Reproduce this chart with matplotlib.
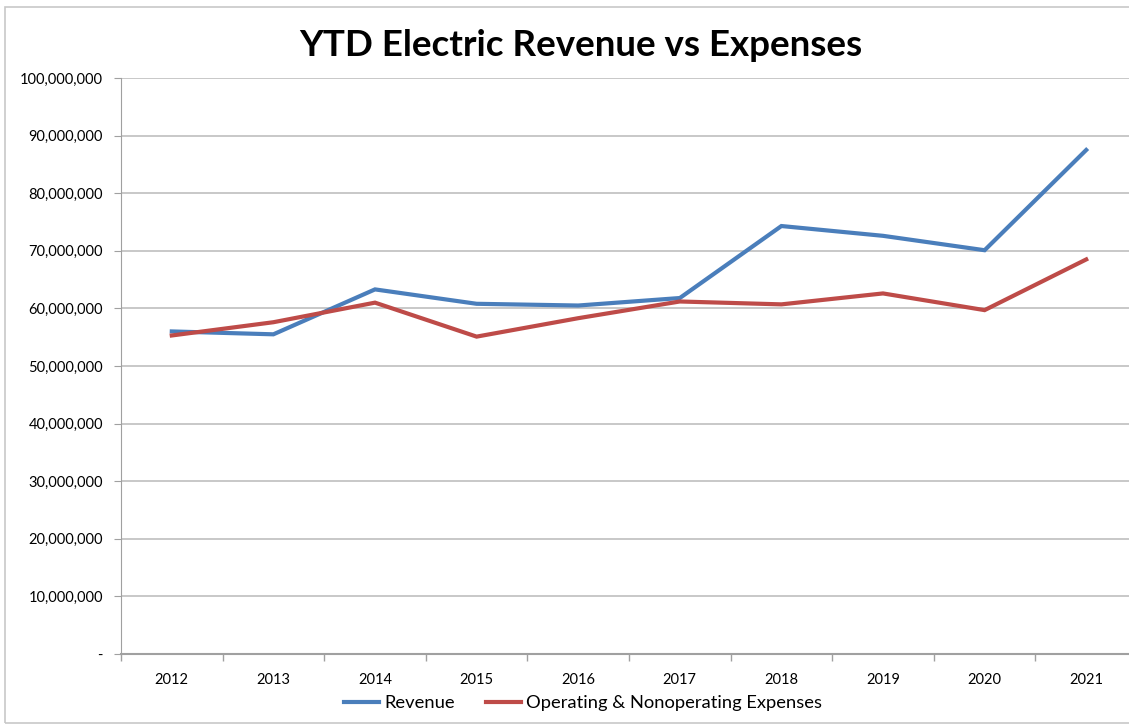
import matplotlib.pyplot as plt
from matplotlib.ticker import FuncFormatter, FixedLocator

years = ["2012", "2013", "2014", "2015", "2016", "2017", "2018", "2019", "2020", "2021"]
revenue = [56.0e6, 55.5e6, 63.3e6, 60.8e6, 60.5e6, 61.8e6, 74.3e6, 72.6e6, 70.1e6, 87.5e6]
expenses = [55.3e6, 57.6e6, 61.0e6, 55.1e6, 58.3e6, 61.2e6, 60.7e6, 62.6e6, 59.7e6, 68.5e6]

plt.rcParams["font.family"] = ["Lato", "DejaVu Sans"]

fig = plt.figure(figsize=(11.29, 7.26), dpi=100)
# outer chart frame
fig.patches.append(plt.Rectangle((5 / 1129, 0.004), 1.0, 1 - 7 / 726 - 0.004,
                                 transform=fig.transFigure, fill=False,
                                 edgecolor="#c8c8c8", linewidth=1.2))

ax = fig.add_axes([121 / 1129, 1 - 654 / 726, 1016 / 1129, 576 / 726])
x = range(len(years))
ax.plot(x, revenue, color="#4a7ebb", lw=3, label="Revenue", solid_joinstyle="miter")
ax.plot(x, expenses, color="#be4b48", lw=3, label="Operating & Nonoperating Expenses",
        solid_joinstyle="miter")

ax.set_xlim(-0.5, len(years) - 0.5)
ax.set_ylim(0, 100e6)
ax.set_yticks(range(0, 100_000_001, 10_000_000))
ax.yaxis.set_major_formatter(FuncFormatter(lambda v, p: "-" if v == 0 else f"{v:,.0f}"))
ax.yaxis.grid(True, color="#bfbfbf", lw=1.2)
ax.set_axisbelow(True)

ax.set_xticks(list(x))
ax.set_xticklabels(years)
ax.tick_params(axis="x", length=0, pad=14, labelsize=10.5)
# category separators on the x axis
ax.xaxis.set_minor_locator(FixedLocator([i - 0.5 for i in range(len(years) + 1)]))
ax.tick_params(axis="x", which="minor", length=5, color="#a0a0a0", width=1)
ax.tick_params(axis="y", length=5, color="#a0a0a0", labelsize=10.5, pad=8)

for side in ("top", "right"):
    ax.spines[side].set_visible(False)
ax.spines["left"].set_color("#a0a0a0")
ax.spines["bottom"].set_color("#a0a0a0")
ax.spines["bottom"].set_linewidth(1.5)

fig.text(581 / 1129, 1 - 45 / 726, "YTD Electric Revenue vs Expenses", ha="center", va="center",
         fontsize=26.5, fontweight="bold")

fig.legend(loc="center", bbox_to_anchor=(583 / 1129, 1 - 703 / 726), ncol=2, frameon=False,
           fontsize=13.2, handlelength=1.9, handletextpad=0.3, columnspacing=1.7)

fig.savefig("out.png", dpi=100)
